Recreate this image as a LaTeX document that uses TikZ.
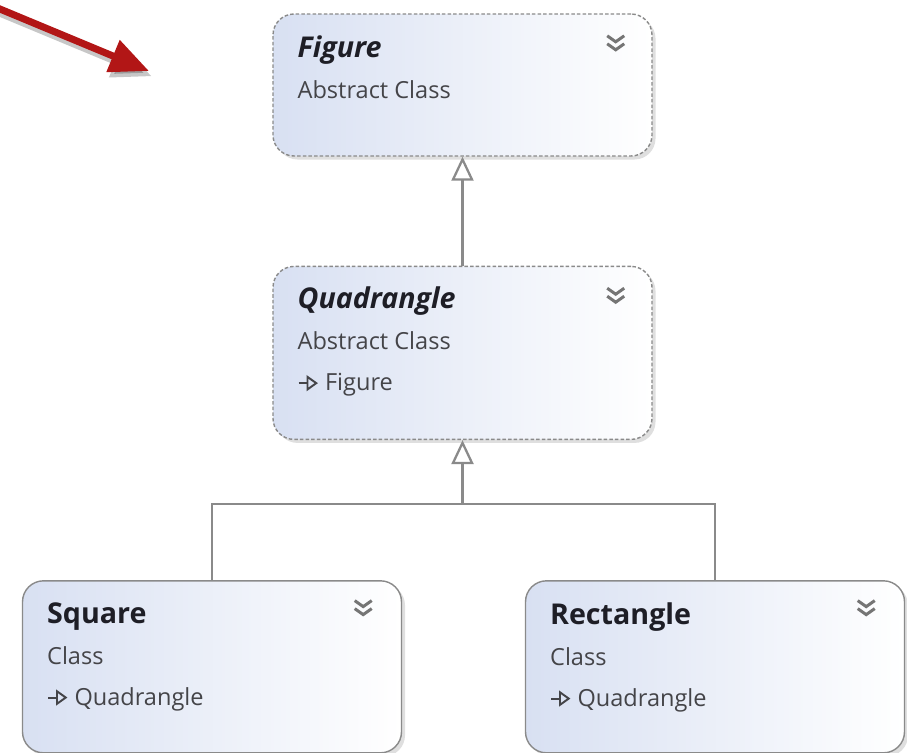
\documentclass[tikz,border=0pt]{standalone}
\usepackage{fontspec}
\setmainfont{Open Sans}
\usetikzlibrary{arrows.meta,positioning,shadows,calc}

\definecolor{boxleft}{RGB}{216,224,242}
\definecolor{frame}{RGB}{138,138,138}
\definecolor{redarrow}{RGB}{178,22,22}
\definecolor{ink}{RGB}{30,30,38}
\definecolor{subink}{RGB}{68,68,72}

\newcommand{\titlefont}{\fontsize{16.3}{23.3}\selectfont\bfseries\color{ink}}
\newcommand{\inh}{\tikz[baseline=-0.6ex]\draw[subink, line width=1.1pt, -{Triangle[open, length=6.5pt, width=9pt]}] (0,0) -- (11pt,0);}

\tikzset{
  classbox/.style={rectangle, rounded corners=0.42cm, minimum width=7.58cm, minimum height=3.44cm,
    draw=frame, line width=0.8pt, left color=boxleft, right color=white,
    drop shadow={shadow xshift=2pt, shadow yshift=-2pt, opacity=0.25}},
  abstractbox/.style={classbox, dash pattern=on 2pt off 1.2pt},
  boxtext/.style={anchor=north west, inner sep=0pt, align=left, text=subink,
    font=\fontsize{13.4}{23.3}\selectfont},
  inherit/.style={draw=frame, line width=1.3pt, -{Triangle[open, fill=white, length=0.48cm, width=0.44cm]}},
  link/.style={draw=frame, line width=1.3pt},
  chevron/.pic={
    \draw[frame!85!black, line width=1.7pt] (-0.17,0.15) -- (0,0.03) -- (0.17,0.15);
    \draw[frame!85!black, line width=1.7pt] (-0.17,-0.01) -- (0,-0.13) -- (0.17,-0.01);
  },
}

\begin{document}
\begin{tikzpicture}
\useasboundingbox (0,0) rectangle (18.14,-15.04);

% class boxes
\node[abstractbox, minimum height=2.84cm] (figure) at (9.25,-1.70) {};
\node[abstractbox, minimum height=3.46cm] (quad)   [below=2.18cm of figure] {};
\node[classbox]   (square) [below=2.8cm of quad, xshift=-5.01cm] {};
\node[classbox]   (rect)   [below=2.8cm of quad, xshift=5.05cm]  {};

% texts
\node[boxtext] (figureTxt) at ([shift={(0.5,-0.44)}]figure.north west)
  {{\titlefont\itshape Figure}\\ Abstract Class};
\node[boxtext] (quadTxt)   at ([shift={(0.5,-0.42)}]quad.north west)
  {{\titlefont\itshape Quadrangle}\\ Abstract Class\\ \inh\ Figure};
\node[boxtext] (squareTxt) at ([shift={(0.5,-0.44)}]square.north west)
  {{\titlefont Square}\\ Class\\ \inh\ Quadrangle};
\node[boxtext] (rectTxt)   at ([shift={(0.5,-0.44)}]rect.north west)
  {{\titlefont Rectangle}\\ Class\\ \inh\ Quadrangle};

% collapse marks
\pic at ([shift={(-0.74,-0.6)}]figure.north east) {chevron};
\pic at ([shift={(-0.74,-0.6)}]quad.north east)   {chevron};
\pic at ([shift={(-0.78,-0.56)}]square.north east) {chevron};
\pic at ([shift={(-0.78,-0.56)}]rect.north east)   {chevron};

% inheritance
\coordinate (join) at ($(quad.south)+(0,-1.28)$);
\draw[inherit] (quad.north) -- (figure.south);
\draw[link] (square.north) |- (join) -- (rect.north |- join) -- (rect.north);
\draw[inherit] (join) -- (quad.south);

% pointer
\coordinate (ptrStart) at (-0.05,-0.16);
\coordinate (ptrTip)   at (2.98,-1.42);
\draw[black, opacity=0.22, line width=4pt, -{Triangle[length=0.78cm, width=0.66cm]},
  transform canvas={shift={(1.5pt,-3pt)}}] (ptrStart) -- (ptrTip);
\draw[redarrow, line width=4pt, -{Triangle[length=0.78cm, width=0.66cm]}] (ptrStart) -- (ptrTip);
\end{tikzpicture}
\end{document}
